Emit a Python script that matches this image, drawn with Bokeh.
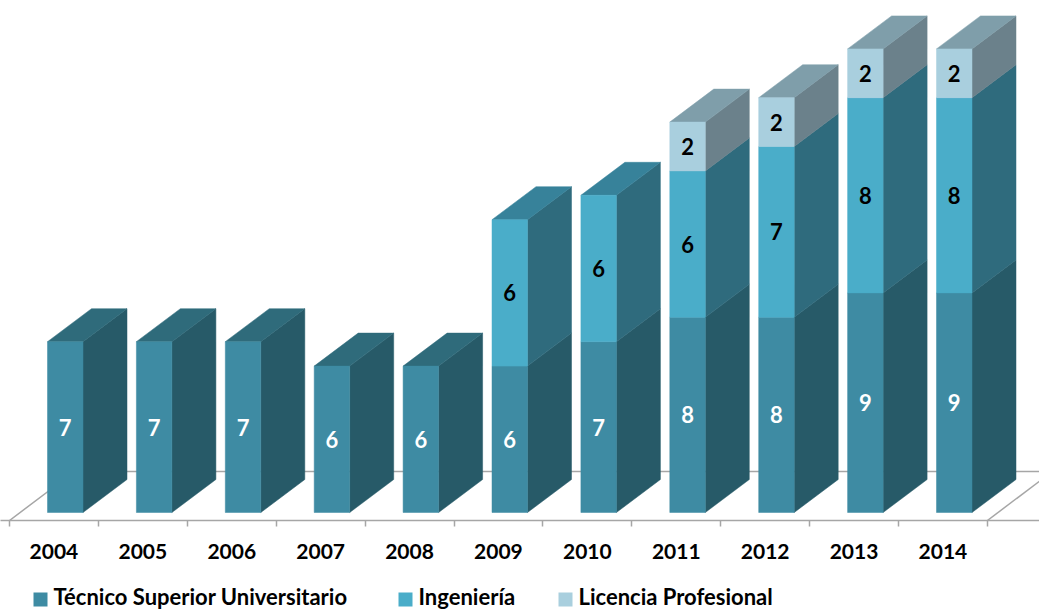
from bokeh.plotting import figure
from bokeh.layouts import column
from bokeh.models import FixedTicker, Range1d
from bokeh.core.properties import value
from bokeh.embed import file_html
from bokeh.resources import INLINE

years = [2004, 2005, 2006, 2007, 2008, 2009, 2010, 2011, 2012, 2013, 2014]
tecnico = [7, 7, 7, 6, 6, 6, 7, 8, 8, 9, 9]
ingenieria = [0, 0, 0, 0, 0, 6, 6, 6, 7, 8, 8]
licencia = [0, 0, 0, 0, 0, 0, 0, 2, 2, 2, 2]
series_names = ["Técnico Superior Universitario", "Ingeniería", "Licencia Profesional"]

FONT = "Lato"
W = 1039
MAIN_H, KEY_H = 574, 36
FRAME_H = 520        # frame runs from the top of the figure to the axis line
ORIGIN_X = 9         # pixel of the left end of the axis
PX_X = 88.9          # pixels per category band
PX_Y = 24.4          # pixels per unit of value
BOTTOM_PX = 8        # axis line lies this many pixels under the value 0
BAR_L = 38 / PX_X    # offset of the front face within its band
BAR_W = 35.5 / PX_X
DX, DY = 44 / PX_X, 33 / PX_Y     # bar depth
FX, FY = 65 / PX_X, 49 / PX_Y     # floor depth

front = ["#3E8BA3", "#4AADC9", "#A9CFDE"]
side = ["#275A68", "#2F6B7D", "#6B818B"]
top = ["#2F6B7B", "#37829A", "#7F9EAA"]
label_colors = ["white", "black", "black"]
key_square_left = [33, 398, 558]
key_text_left = [53, 418, 578]

p = figure(width=W, height=MAIN_H, output_backend="svg", toolbar_location=None,
           x_range=Range1d(-ORIGIN_X / PX_X, (W - ORIGIN_X) / PX_X),
           y_range=Range1d(-BOTTOM_PX / PX_Y, (FRAME_H - BOTTOM_PX) / PX_Y),
           min_border_left=0, min_border_right=0, min_border_top=0,
           min_border_bottom=MAIN_H - FRAME_H,
           outline_line_color=None, background_fill_color="white")
p.grid.visible = False
p.yaxis.visible = False

# floor
base = -BOTTOM_PX / PX_Y
n = len(years)
floor_col = "#A6A6A6"
p.line([0, FX, n + FX + 1], [base, base + FY, base + FY], line_color=floor_col, line_width=1.5)
p.line([n, n + FX], [base, base + FY], line_color=floor_col, line_width=1.5)

# bars
stacks = [tecnico, ingenieria, licencia]
fronts = [dict(xs=[], ys=[]) for _ in stacks]
sides = [dict(xs=[], ys=[]) for _ in stacks]
tops = [dict(xs=[], ys=[]) for _ in stacks]
labels = [dict(x=[], y=[], t=[]) for _ in stacks]
for i in range(n):
    x0 = i + BAR_L
    x1 = x0 + BAR_W
    cum = 0
    last = 0
    for s, vals in enumerate(stacks):
        v = vals[i]
        if v == 0:
            continue
        y0, y1 = cum, cum + v
        fronts[s]["xs"].append([x0, x1, x1, x0])
        fronts[s]["ys"].append([y0, y0, y1, y1])
        sides[s]["xs"].append([x1, x1 + DX, x1 + DX, x1])
        sides[s]["ys"].append([y0, y0 + DY, y1 + DY, y1])
        labels[s]["x"].append((x0 + x1) / 2)
        labels[s]["y"].append((y0 + y1) / 2)
        labels[s]["t"].append(str(v))
        cum = y1
        last = s
    tops[last]["xs"].append([x0, x1, x1 + DX, x0 + DX])
    tops[last]["ys"].append([cum, cum, cum + DY, cum + DY])

for s in range(3):
    p.patches(sides[s]["xs"], sides[s]["ys"], fill_color=side[s], line_color=side[s], line_width=0.5)
    p.patches(tops[s]["xs"], tops[s]["ys"], fill_color=top[s], line_color=top[s], line_width=0.5)
    p.patches(fronts[s]["xs"], fronts[s]["ys"], fill_color=front[s], line_color=front[s], line_width=0.5)
for s in range(3):
    p.text(labels[s]["x"], labels[s]["y"], text=labels[s]["t"], text_color=label_colors[s],
           text_font=value(FONT), text_font_style="bold", text_font_size="22px",
           text_align="center", text_baseline="middle")

# axis
ax = p.xaxis[0]
ax.ticker = FixedTicker(ticks=[i + 0.5 for i in range(n)], minor_ticks=list(range(n + 1)))
ax.major_label_overrides = {i + 0.5: str(y) for i, y in enumerate(years)}
ax.axis_line_color = floor_col
ax.axis_line_width = 1.5
ax.major_tick_line_color = None
ax.major_tick_out = 0
ax.major_tick_in = 0
ax.minor_tick_line_color = floor_col
ax.minor_tick_line_width = 1.5
ax.minor_tick_out = 6
ax.minor_tick_in = 0
ax.major_label_standoff = 17
ax.major_label_text_font = FONT
ax.major_label_text_font_style = "bold"
ax.major_label_text_font_size = "21px"
ax.major_label_text_color = "black"

# key below the chart, in a strip of its own (pixel scales)
key = figure(width=W, height=KEY_H, output_backend="svg", toolbar_location=None,
             x_range=Range1d(0, W), y_range=Range1d(0, KEY_H),
             min_border_left=0, min_border_right=0, min_border_top=0, min_border_bottom=0,
             outline_line_color=None, background_fill_color="white")
key.grid.visible = False
key.xaxis.visible = False
key.yaxis.visible = False
for s in range(3):
    key.rect([key_square_left[s] + 7], [11], width=14, height=14,
             fill_color=front[s], line_color=None)
    key.text([key_text_left[s]], [14], text=[series_names[s]], text_color="black",
             text_font=value(FONT), text_font_style="bold", text_font_size="22px",
             text_align="left", text_baseline="middle")

page = column(p, key, spacing=0)
open("out.html", "w").write(file_html(page, INLINE))
